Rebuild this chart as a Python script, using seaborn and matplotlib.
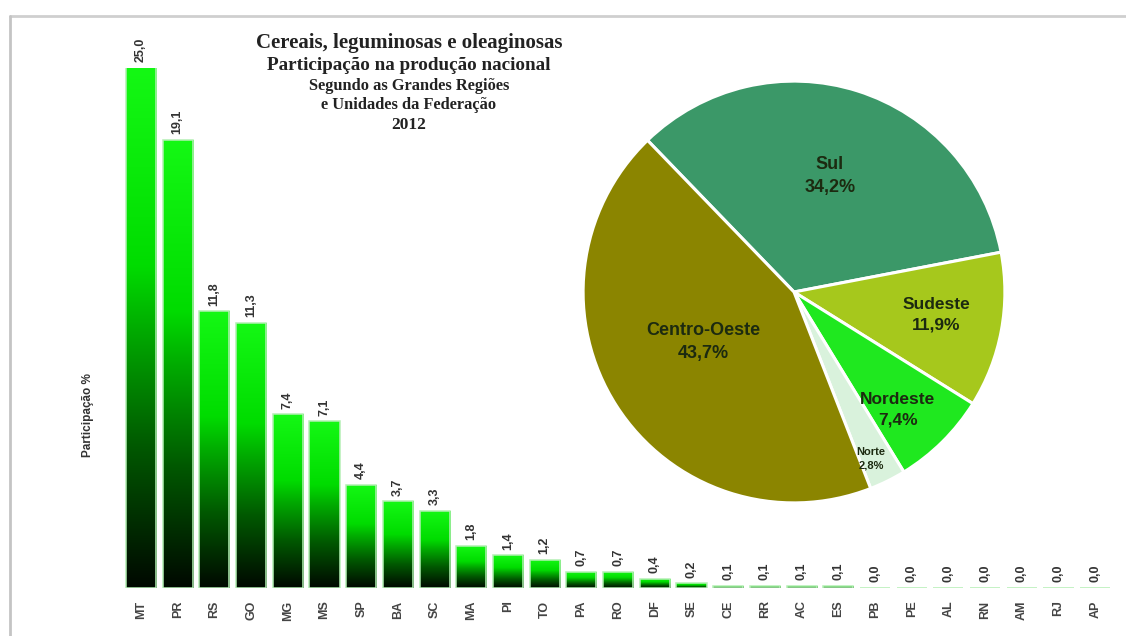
import numpy as np
import pandas as pd
import matplotlib
matplotlib.use("Agg")
import matplotlib.pyplot as plt
from matplotlib.colors import LinearSegmentedColormap
from matplotlib.lines import Line2D
import seaborn as sns

# Participação (%) na produção nacional de cereais, leguminosas e oleaginosas - 2012
ufs = ["MT", "PR", "RS", "GO", "MG", "MS", "SP", "BA", "SC", "MA", "PI", "TO", "PA",
       "RO", "DF", "SE", "CE", "RR", "AC", "ES", "PB", "PE", "AL", "RN", "AM", "RJ", "AP"]
participacao = [25.0, 19.1, 11.8, 11.3, 7.4, 7.1, 4.4, 3.7, 3.3, 1.8, 1.4, 1.2, 0.7,
                0.7, 0.4, 0.2, 0.1, 0.1, 0.1, 0.1, 0.0, 0.0, 0.0, 0.0, 0.0, 0.0, 0.0]

regioes = ["Sul", "Sudeste", "Nordeste", "Norte", "Centro-Oeste"]
regioes_pct = [34.2, 11.9, 7.4, 2.8, 43.7]
regioes_cores = ["#3b9868", "#a6c81c", "#1fe81f", "#d9f2dc", "#8b8500"]

titulo = ["Cereais, leguminosas e oleaginosas",
          "Participação na produção nacional",
          "Segundo as Grandes Regiões",
          "e Unidades da Federação",
          "2012"]

sns.set_style("white")
plt.rcParams["font.family"] = ["Liberation Sans", "DejaVu Sans"]

W, H = 1126, 636
fig = plt.figure(figsize=(W / 100, H / 100), dpi=100)
fig.patch.set_facecolor("white")


def fx(px):
    return px / W


def fy(py):
    return 1 - py / H


# ---- bar chart ------------------------------------------------------------
ymax = 22.17
ax = fig.add_axes([fx(122.6), fy(588), fx(991), 520 / H])
df = pd.DataFrame({"UF": ufs, "participacao": participacao})
sns.barplot(data=df, x="UF", y="participacao", ax=ax, width=0.82,
            color="#00c000", edgecolor="#b4efb4", linewidth=1.1, saturation=1)

grad_cmap = LinearSegmentedColormap.from_list(
    "verde", [(0.0, "#010801"), (0.27, "#005800"), (0.5, "#00ac00"),
              (0.62, "#00dc00"), (1.0, "#14f814")])
grad = np.linspace(0, 1, 256).reshape(-1, 1)
for patch in ax.patches:
    x0, w, h = patch.get_x(), patch.get_width(), patch.get_height()
    if h <= 0:
        continue
    top = min(h, ymax)
    patch.set_facecolor("none")
    im = ax.imshow(grad, cmap=grad_cmap, origin="lower", aspect="auto",
                   extent=(x0, x0 + w, 0, top), zorder=patch.get_zorder() - 0.1,
                   interpolation="bilinear")
    im.set_clip_path(patch)

# value labels above bars
for i, v in enumerate(participacao):
    txt = f"{v:.1f}".replace(".", ",")
    ax.annotate(txt, xy=(i, min(v, ymax)), xytext=(0, 4), textcoords="offset points",
                rotation=90, ha="center", va="bottom", fontsize=9, fontweight="bold",
                color="#333333", annotation_clip=False)

ax.set_xlim(-0.5, len(ufs) - 0.5)
ax.set_ylim(0, ymax)
ax.set_xlabel("")
ax.set_ylabel("")
ax.set_yticks([])
ax.tick_params(axis="x", length=0, pad=9)
for lab in ax.get_xticklabels():
    lab.set_rotation(90)
    lab.set_fontsize(9)
    lab.set_fontweight("bold")
    lab.set_color("#444444")
sns.despine(ax=ax, left=True, bottom=True)
ax.patch.set_alpha(0)

fig.text(fx(88), fy(415), "Participação %", rotation=90, ha="center", va="center",
         fontsize=8.5, fontweight="bold", color="#333333")

# ---- title ----------------------------------------------------------------
tit_y = [43, 65, 86, 105, 125]
tit_size = [15, 13.8, 11.8, 11.8, 12.5]
for line, yy, fs in zip(titulo, tit_y, tit_size):
    fig.text(fx(409), fy(yy), line, ha="center", va="center", fontsize=fs,
             fontweight="bold", family=["Liberation Serif", "DejaVu Serif"],
             color="#222222")

# ---- pie chart ------------------------------------------------------------
cx, cy, r = 794, 292, 213
pax = fig.add_axes([fx(cx - r), fy(cy + r), fx(2 * r), 2 * r / H])
wedges, _ = pax.pie(regioes_pct, colors=regioes_cores, startangle=134, counterclock=False,
                    radius=1, wedgeprops=dict(edgecolor="white", linewidth=2.2))
pax.set_xlim(-1.01, 1.01)
pax.set_ylim(-1.01, 1.01)
pax.set_aspect("auto")
pax.axis("off")

label_pos = [(0.17, 0.55), (0.676, -0.108), (0.493, -0.559), (0.366, -0.789), (-0.432, -0.239)]
label_size = [13, 12.5, 12.5, 8, 13]
for nome, pct, (lx, ly), fs in zip(regioes, regioes_pct, label_pos, label_size):
    pax.text(lx, ly, f"{nome}\n{pct:.1f}%".replace(".", ","), ha="center", va="center",
             fontsize=fs, fontweight="bold", color="#1c2a10", linespacing=1.45)

# ---- frame ----------------------------------------------------------------
fig.add_artist(Line2D([fx(10), 1.0], [fy(16), fy(16)], color="#cfcfcf", lw=2))
fig.add_artist(Line2D([fx(10), fx(10)], [fy(16), 0.0], color="#c4c4c4", lw=2))

fig.savefig("out.png", dpi=100, facecolor="white")
